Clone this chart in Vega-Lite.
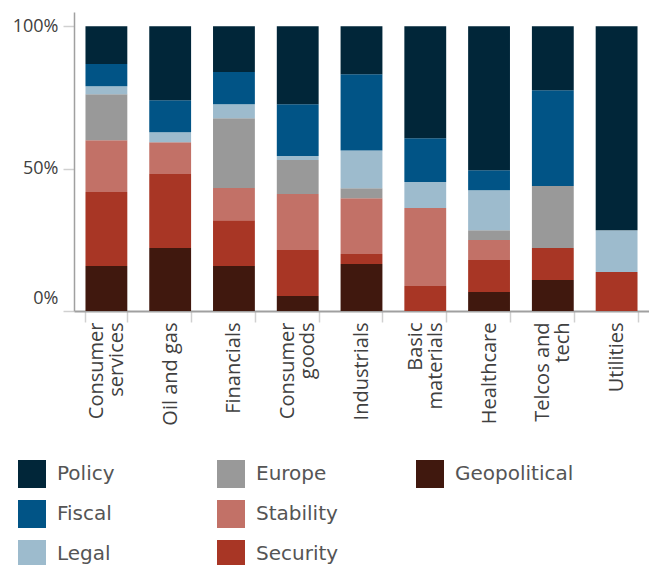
{
  "$schema": "https://vega.github.io/schema/vega-lite/v6.json",
  "autosize": {"type": "none"},
  "padding": {"left": 74, "top": 12, "right": 0, "bottom": 254},
  "width": 575,
  "height": 299,
  "data": {
    "values": [
      {"sector": "Consumer services", "risk": "Geopolitical", "share": 15.8},
      {"sector": "Consumer services", "risk": "Security", "share": 26.0},
      {"sector": "Consumer services", "risk": "Stability", "share": 18.2},
      {"sector": "Consumer services", "risk": "Europe", "share": 16.1},
      {"sector": "Consumer services", "risk": "Legal", "share": 2.8},
      {"sector": "Consumer services", "risk": "Fiscal", "share": 7.8},
      {"sector": "Consumer services", "risk": "Policy", "share": 13.3},
      {"sector": "Oil and gas", "risk": "Geopolitical", "share": 22.1},
      {"sector": "Oil and gas", "risk": "Security", "share": 26.0},
      {"sector": "Oil and gas", "risk": "Stability", "share": 11.2},
      {"sector": "Oil and gas", "risk": "Legal", "share": 3.5},
      {"sector": "Oil and gas", "risk": "Fiscal", "share": 11.2},
      {"sector": "Oil and gas", "risk": "Policy", "share": 26.0},
      {"sector": "Financials", "risk": "Geopolitical", "share": 15.8},
      {"sector": "Financials", "risk": "Security", "share": 16.1},
      {"sector": "Financials", "risk": "Stability", "share": 11.3},
      {"sector": "Financials", "risk": "Europe", "share": 24.5},
      {"sector": "Financials", "risk": "Legal", "share": 4.9},
      {"sector": "Financials", "risk": "Fiscal", "share": 11.3},
      {"sector": "Financials", "risk": "Policy", "share": 16.1},
      {"sector": "Consumer goods", "risk": "Geopolitical", "share": 5.3},
      {"sector": "Consumer goods", "risk": "Security", "share": 16.1},
      {"sector": "Consumer goods", "risk": "Stability", "share": 19.7},
      {"sector": "Consumer goods", "risk": "Europe", "share": 11.9},
      {"sector": "Consumer goods", "risk": "Legal", "share": 1.4},
      {"sector": "Consumer goods", "risk": "Fiscal", "share": 18.2},
      {"sector": "Consumer goods", "risk": "Policy", "share": 27.4},
      {"sector": "Industrials", "risk": "Geopolitical", "share": 16.5},
      {"sector": "Industrials", "risk": "Security", "share": 3.5},
      {"sector": "Industrials", "risk": "Stability", "share": 19.6},
      {"sector": "Industrials", "risk": "Europe", "share": 3.5},
      {"sector": "Industrials", "risk": "Legal", "share": 13.3},
      {"sector": "Industrials", "risk": "Fiscal", "share": 26.7},
      {"sector": "Industrials", "risk": "Policy", "share": 16.9},
      {"sector": "Basic materials", "risk": "Security", "share": 8.8},
      {"sector": "Basic materials", "risk": "Stability", "share": 27.4},
      {"sector": "Basic materials", "risk": "Legal", "share": 9.1},
      {"sector": "Basic materials", "risk": "Fiscal", "share": 15.4},
      {"sector": "Basic materials", "risk": "Policy", "share": 39.3},
      {"sector": "Healthcare", "risk": "Geopolitical", "share": 6.7},
      {"sector": "Healthcare", "risk": "Security", "share": 11.2},
      {"sector": "Healthcare", "risk": "Stability", "share": 7.0},
      {"sector": "Healthcare", "risk": "Europe", "share": 3.5},
      {"sector": "Healthcare", "risk": "Legal", "share": 14.0},
      {"sector": "Healthcare", "risk": "Fiscal", "share": 7.0},
      {"sector": "Healthcare", "risk": "Policy", "share": 50.6},
      {"sector": "Telcos and tech", "risk": "Geopolitical", "share": 10.9},
      {"sector": "Telcos and tech", "risk": "Security", "share": 11.2},
      {"sector": "Telcos and tech", "risk": "Europe", "share": 21.8},
      {"sector": "Telcos and tech", "risk": "Fiscal", "share": 33.6},
      {"sector": "Telcos and tech", "risk": "Policy", "share": 22.5},
      {"sector": "Utilities", "risk": "Security", "share": 13.7},
      {"sector": "Utilities", "risk": "Legal", "share": 14.7},
      {"sector": "Utilities", "risk": "Policy", "share": 71.6}
    ]
  },
  "transform": [
    {"calculate": "indexof(['Geopolitical','Security','Stability','Europe','Legal','Fiscal','Policy'], datum.risk)", "as": "stackRank"}
  ],
  "mark": {"type": "bar", "strokeWidth": 0},
  "encoding": {
    "x": {
      "field": "sector",
      "type": "nominal",
      "sort": null,
      "scale": {"paddingInner": 0.344, "paddingOuter": 0.18},
      "axis": {
        "title": null,
        "labelAngle": -90,
        "labelAlign": "right",
        "labelBaseline": "middle",
        "labelFont": "Open Sans",
        "labelFontSize": 20,
        "labelColor": "#404040",
        "labelLineHeight": 20,
        "labelPadding": 0,
        "labelOffset": {"condition": {"test": "indexof(['Consumer services', 'Consumer goods', 'Basic materials', 'Telcos and tech'], datum.value) >= 0", "value": -10}, "value": 0},
        "labelExpr": "datum.label == 'Consumer services' ? ['Consumer', 'services'] : datum.label == 'Consumer goods' ? ['Consumer', 'goods'] : datum.label == 'Basic materials' ? ['Basic', 'materials'] : datum.label == 'Telcos and tech' ? ['Telcos and', 'tech'] : datum.label",
        "tickBand": "extent",
        "tickSize": 11,
        "tickColor": "#d0d0d0",
        "tickWidth": 1.5,
        "domainColor": "#a0a0a0",
        "domainWidth": 2,
        "grid": false
      }
    },
    "y": {
      "field": "share",
      "type": "quantitative",
      "stack": "normalize",
      "scale": {"domain": [0, 1.05], "nice": false},
      "axis": {
        "title": null,
        "values": [0, 0.5, 1],
        "format": ".0%",
        "labelFont": "Open Sans",
        "labelFontSize": 18,
        "labelColor": "#404040",
        "labelPadding": 5,
        "labelOffset": {"condition": {"test": "datum.value == 0", "value": -13}, "value": 0},
        "tickSize": 11,
        "tickColor": "#d0d0d0",
        "tickWidth": 1.5,
        "domainColor": "#a0a0a0",
        "domainWidth": 1.5,
        "grid": false
      }
    },
    "color": {
      "field": "risk",
      "type": "nominal",
      "scale": {
        "domain": ["Policy", "Europe", "Geopolitical", "Fiscal", "Stability", " ", "Legal", "Security"],
        "range": ["#012639", "#999999", "#40180e", "#015486", "#c27167", "rgba(0,0,0,0)", "#9dbbcd", "#a83625"]
      },
      "legend": {
        "title": null,
        "orient": "none",
        "legendX": -56,
        "legendY": 448,
        "direction": "horizontal",
        "columns": 3,
        "gridAlign": "all",
        "columnPadding": 41,
        "rowPadding": 12,
        "symbolType": "square",
        "symbolSize": 784,
        "symbolStrokeWidth": 0,
        "symbolOpacity": 1,
        "labelFont": "DejaVu Sans",
        "labelFontSize": 20,
        "labelColor": "#555555",
        "labelOffset": 11,
        "labelLimit": 300
      }
    },
    "order": {"field": "stackRank", "type": "quantitative"}
  },
  "config": {
    "view": {"stroke": null},
    "background": "white"
  }
}
